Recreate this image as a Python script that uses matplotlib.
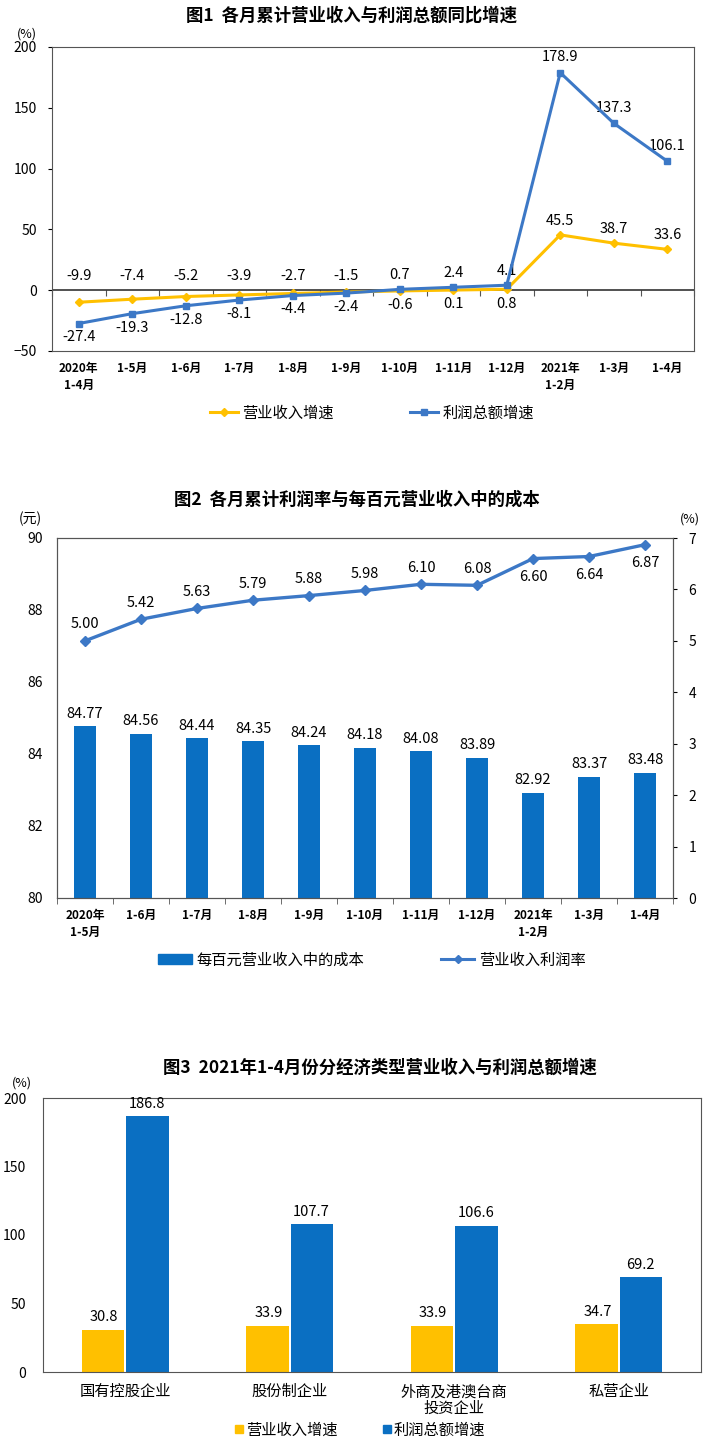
import matplotlib
matplotlib.use("Agg")
import matplotlib.pyplot as plt
import numpy as np
from matplotlib.lines import Line2D
from matplotlib.patches import Patch

plt.rcParams['font.family'] = ['Noto Sans CJK SC', 'DejaVu Sans']

# ---------------- data ----------------
c1_cats = ["2020年\n1-4月", "1-5月", "1-6月", "1-7月", "1-8月", "1-9月", "1-10月",
           "1-11月", "1-12月", "2021年\n1-2月", "1-3月", "1-4月"]
c1_revenue = [-9.9, -7.4, -5.2, -3.9, -2.7, -1.5, -0.6, 0.1, 0.8, 45.5, 38.7, 33.6]
c1_profit = [-27.4, -19.3, -12.8, -8.1, -4.4, -2.4, 0.7, 2.4, 4.1, 178.9, 137.3, 106.1]

c2_cats = ["2020年\n1-5月", "1-6月", "1-7月", "1-8月", "1-9月", "1-10月", "1-11月",
           "1-12月", "2021年\n1-2月", "1-3月", "1-4月"]
c2_cost = [84.77, 84.56, 84.44, 84.35, 84.24, 84.18, 84.08, 83.89, 82.92, 83.37, 83.48]
c2_margin = [5.00, 5.42, 5.63, 5.79, 5.88, 5.98, 6.10, 6.08, 6.60, 6.64, 6.87]

c3_cats = ["国有控股企业", "股份制企业", "外商及港澳台商\n投资企业", "私营企业"]
c3_revenue = [30.8, 33.9, 33.9, 34.7]
c3_profit = [186.8, 107.7, 106.6, 69.2]

YEL = "#FFC000"
BLU_LINE = "#3C78C6"
BLU_BAR = "#0A6FC2"
W, H = 704, 1441

fig = plt.figure(figsize=(W / 100, H / 100), dpi=100)

def rect(l, r, t, b):
    return [l / W, 1 - b / H, (r - l) / W, (b - t) / H]

def ftext(x, y, s, **kw):
    fig.text(x / W, 1 - y / H, s, **kw)

# ---------------- chart 1 ----------------
ax1 = fig.add_axes(rect(52, 694, 47, 351))
x1 = np.arange(len(c1_cats))
ax1.plot(x1, c1_revenue, color=YEL, lw=2.2, marker='D', ms=4.5, zorder=3)
ax1.plot(x1, c1_profit, color=BLU_LINE, lw=2.2, marker='s', ms=4.5, zorder=4)
ax1.set_xlim(-0.5, len(c1_cats) - 0.5)
ax1.set_ylim(-50, 200)
ax1.set_yticks([-50, 0, 50, 100, 150, 200])
ax1.tick_params(axis='y', labelsize=10, length=3, direction='out', pad=8)
ax1.set_xticks(x1)
ax1.set_xticklabels(c1_cats, fontsize=8.5, fontweight='bold', linespacing=1.4)
ax1.tick_params(axis='x', length=0, pad=8)
for lbl in ax1.get_xticklabels():
    lbl.set_verticalalignment('top')
ax1.axhline(0, color='#222222', lw=1.1, zorder=2)
zloc = (0 - (-50)) / 250
sec = ax1.secondary_xaxis(zloc)
sec.set_xticks(np.arange(len(c1_cats) + 1) - 0.5)
sec.tick_params(axis='x', direction='out', length=4, labelbottom=False, labeltop=False,
                bottom=True, top=False, color='#555555')
sec.spines['bottom'].set_visible(False)
sec.spines['top'].set_visible(False)
for s in ax1.spines.values():
    s.set_color('#555555')

lab_kw = dict(ha='center', fontsize=10.5, textcoords='offset points')
for i in range(len(c1_cats)):
    r, p = c1_revenue[i], c1_profit[i]
    if i < 9:
        hi, lo = (r, p) if r > p else (p, r)
        ax1.annotate(f"{hi:.1f}", (i, max(hi, 0)), xytext=(0, 5), va='bottom', **lab_kw)
        ax1.annotate(f"{lo:.1f}", (i, min(lo, 0)), xytext=(0, -5), va='top', **lab_kw)
    else:
        ax1.annotate(f"{r:.1f}", (i, r), xytext=(0, 5), va='bottom', **lab_kw)
        ax1.annotate(f"{p:.1f}", (i, p), xytext=(0, 6), va='bottom', **lab_kw)

ftext(352, 16, "图1  各月累计营业收入与利润总额同比增速", ha='center', va='center',
      fontsize=12.5, fontweight='bold')
ftext(27, 34, "(%)", ha='center', va='center', fontsize=9)
h1 = [Line2D([], [], color=YEL, lw=2.2, marker='D', ms=4.5),
      Line2D([], [], color=BLU_LINE, lw=2.2, marker='s', ms=4.5)]
fig.legend(h1, ["营业收入增速", "利润总额增速"], loc='center', bbox_to_anchor=(372 / W, 1 - 413 / H),
           ncol=2, frameon=False, fontsize=11, columnspacing=5, handlelength=1.8, handletextpad=0.3)

# ---------------- chart 2 ----------------
ax2 = fig.add_axes(rect(57, 673, 538, 898))
x2 = np.arange(len(c2_cats))
ax2.bar(x2, c2_cost, width=0.4, color=BLU_BAR, zorder=2)
ax2.set_ylim(80, 90)
ax2.set_xlim(-0.5, len(c2_cats) - 0.5)
ax2.set_yticks(np.arange(80, 91, 2))
ax2.tick_params(axis='y', labelsize=10, length=0, pad=10)
ax2.set_xticks(x2)
ax2.set_xticklabels(c2_cats, fontsize=8.5, fontweight='bold', linespacing=1.4)
ax2.set_xticks(np.arange(len(c2_cats) + 1) - 0.5, minor=True)
ax2.tick_params(axis='x', which='major', length=0, pad=8)
ax2.tick_params(axis='x', which='minor', length=4, direction='out', color='#555555')
for v, xx in zip(c2_cost, x2):
    ax2.annotate(f"{v:.2f}", (xx, v), xytext=(0, 4), textcoords='offset points',
                 ha='center', va='bottom', fontsize=10.5)
for s in ax2.spines.values():
    s.set_color('#555555')

ax2r = ax2.twinx()
ax2r.plot(x2, c2_margin, color=BLU_LINE, lw=2.4, marker='D', ms=5, zorder=3)
ax2r.set_ylim(0, 7)
ax2r.set_yticks(np.arange(0, 8, 1))
ax2r.tick_params(axis='y', labelsize=10, length=3, direction='out', pad=8)
for i, v in enumerate(c2_margin):
    if i >= 8:
        ax2r.annotate(f"{v:.2f}", (i, v), xytext=(0, -8), textcoords='offset points',
                      ha='center', va='top', fontsize=10.5)
    else:
        ax2r.annotate(f"{v:.2f}", (i, v), xytext=(0, 7), textcoords='offset points',
                      ha='center', va='bottom', fontsize=10.5)
for s in ax2r.spines.values():
    s.set_color('#555555')

ftext(357, 500, "图2  各月累计利润率与每百元营业收入中的成本", ha='center', va='center',
      fontsize=12.5, fontweight='bold')
ftext(30, 519, "(元)", ha='center', va='center', fontsize=10)
ftext(690, 519, "(%)", ha='center', va='center', fontsize=9)
h2 = [Patch(color=BLU_BAR), Line2D([], [], color=BLU_LINE, lw=2.2, marker='D', ms=4)]
fig.legend(h2, ["每百元营业收入中的成本", "营业收入利润率"], loc='center',
           bbox_to_anchor=(372 / W, 1 - 960 / H), ncol=2, frameon=False, fontsize=11,
           columnspacing=5, handlelength=2.2, handleheight=0.6, handletextpad=0.3)

# ---------------- chart 3 ----------------
ax3 = fig.add_axes(rect(43, 701, 1098, 1372))
x3 = np.arange(len(c3_cats))
bw = 0.26
ax3.bar(x3 - bw / 2 - 0.005, c3_revenue, width=bw, color=YEL, zorder=2)
ax3.bar(x3 + bw / 2 + 0.005, c3_profit, width=bw, color=BLU_BAR, zorder=2)
ax3.set_ylim(0, 200)
ax3.set_xlim(-0.5, len(c3_cats) - 0.5)
ax3.set_yticks(np.arange(0, 201, 50))
ax3.tick_params(axis='y', labelsize=10, length=0, pad=12)
ax3.set_xticks(x3)
ax3.set_xticklabels(c3_cats, fontsize=11, linespacing=1.0)
ax3.tick_params(axis='x', length=0, pad=8)
for v, xx in zip(c3_revenue, x3 - bw / 2):
    ax3.annotate(f"{v:.1f}", (xx, v), xytext=(0, 4), textcoords='offset points',
                 ha='center', va='bottom', fontsize=10.5)
for v, xx in zip(c3_profit, x3 + bw / 2):
    ax3.annotate(f"{v:.1f}", (xx, v), xytext=(0, 4), textcoords='offset points',
                 ha='center', va='bottom', fontsize=10.5)
for s in ax3.spines.values():
    s.set_color('#555555')

ftext(380, 1068, "图3  2021年1-4月份分经济类型营业收入与利润总额增速", ha='center', va='center',
      fontsize=12.5, fontweight='bold')
ftext(22, 1083, "(%)", ha='center', va='center', fontsize=9)
h3 = [Patch(color=YEL), Patch(color=BLU_BAR)]
fig.legend(h3, ["营业收入增速", "利润总额增速"], loc='center',
           bbox_to_anchor=(360 / W, 1 - 1430 / H), ncol=2, frameon=False, fontsize=11,
           columnspacing=3, handlelength=0.5, handleheight=0.5, handletextpad=0.2)

fig.savefig("out.png", dpi=100, facecolor='white')
